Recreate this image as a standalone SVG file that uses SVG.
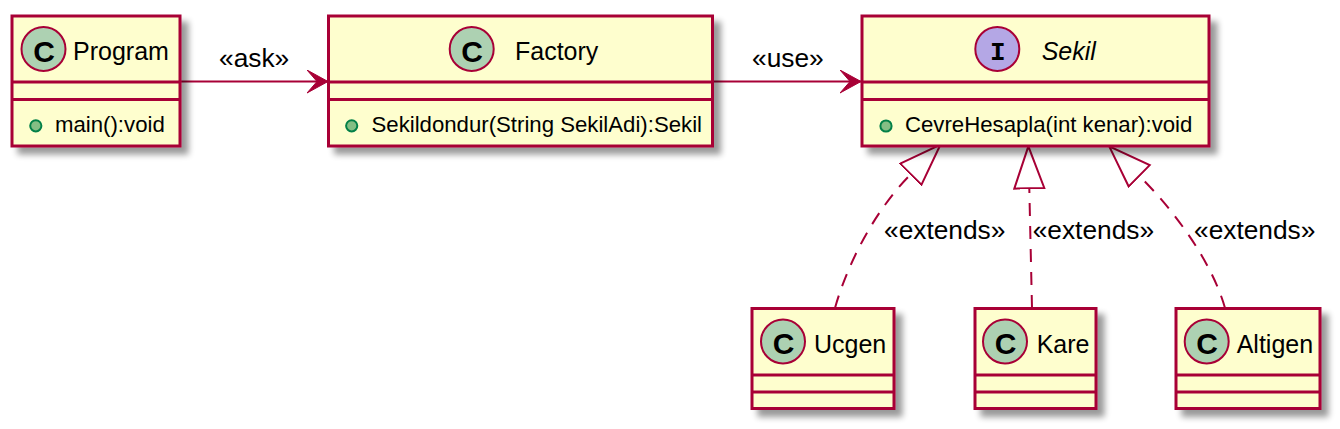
<svg xmlns="http://www.w3.org/2000/svg" width="1340" height="429" viewBox="0 0 1340 429">
<style>
.box{fill:#FEFECE;stroke:#A80036;stroke-width:3;filter:url(#sh)}
.sep{stroke:#A80036;stroke-width:3}
.cc{fill:#ADD1B2;stroke:#A80036;stroke-width:2}
.ci{fill:#B4A7E5;stroke:#A80036;stroke-width:2}
.dot{fill:#84BE84;stroke:#038048;stroke-width:2}
.glyph{font-family:"Liberation Sans",Arial,sans-serif;font-weight:bold;font-size:30px;text-anchor:middle;fill:#000}
.iglyph{font-family:"Liberation Mono","DejaVu Sans Mono",monospace;font-weight:bold;font-size:26px;text-anchor:middle;fill:#000}
.name{font-family:"Liberation Sans",Arial,sans-serif;font-size:25px;fill:#000}
.it{font-style:italic}
.meth{font-family:"Liberation Sans",Arial,sans-serif;font-size:22.2px;fill:#000}
.lbl{font-family:"Liberation Sans",Arial,sans-serif;font-size:26.3px;fill:#000}
.edge{fill:none;stroke:#A80036;stroke-width:2}
.dash{stroke-dasharray:13,10}
</style>
<defs>
<filter id="sh" x="-10%" y="-10%" width="130%" height="140%">
<feGaussianBlur in="SourceAlpha" stdDeviation="3" result="b"/>
<feOffset in="b" dx="7" dy="7" result="o"/>
<feComponentTransfer in="o" result="s"><feFuncA type="linear" slope="0.4"/></feComponentTransfer>
<feMerge><feMergeNode in="s"/><feMergeNode in="SourceGraphic"/></feMerge>
</filter>
<marker id="arr" markerUnits="userSpaceOnUse" markerWidth="24" markerHeight="26" refX="21" refY="11.5" orient="auto">
<path d="M0,0 L21,11.5 L0,23 L10,11.5 Z" fill="#A80036" stroke="#A80036" stroke-width="1"/>
</marker>
<marker id="ext" markerUnits="userSpaceOnUse" markerWidth="46" markerHeight="34" refX="1" refY="16" orient="auto">
<path d="M1,1 L43,16 L1,31 Z" fill="#FFFFFF" stroke="#A80036" stroke-width="2" stroke-dasharray="none"/>
</marker>
</defs>
<rect width="1340" height="429" fill="#FFFFFF"/>

<g id="connectors">
<path class="edge" d="M180,81.5 L328,81.5" marker-end="url(#arr)"/>
<text class="lbl" x="219" y="67">«ask»</text>
<path class="edge" d="M712.5,81.5 L861,81.5" marker-end="url(#arr)"/>
<text class="lbl" x="752" y="67">«use»</text>
<path class="edge dash" d="M835,308 C848,262 876,209 910.8,174.2" marker-end="url(#ext)"/>
<text class="lbl" x="884" y="239">«extends»</text>
<path class="edge dash" d="M1032,308 L1029.3,188.3" marker-end="url(#ext)"/>
<text class="lbl" x="1032.7" y="239">«extends»</text>
<path class="edge dash" d="M1225,308 C1212,262 1174,210 1139.2,175.8" marker-end="url(#ext)"/>
<text class="lbl" x="1194" y="239">«extends»</text>
</g>

<g id="Program">
<rect class="box" x="12" y="16" width="168" height="130"/>
<line class="sep" x1="12" y1="82" x2="180" y2="82"/>
<line class="sep" x1="12" y1="99.5" x2="180" y2="99.5"/>
<circle class="cc" cx="43.5" cy="49" r="22"/>
<text class="glyph" x="44" y="61.5">C</text>
<text class="name" x="73" y="60">Program</text>
<circle class="dot" cx="35.8" cy="125.8" r="5.6"/>
<text class="meth" x="55" y="132">main():void</text>
</g>

<g id="Factory">
<rect class="box" x="328.5" y="16" width="384" height="130"/>
<line class="sep" x1="328.5" y1="82" x2="712.5" y2="82"/>
<line class="sep" x1="328.5" y1="99.5" x2="712.5" y2="99.5"/>
<circle class="cc" cx="471.7" cy="49" r="22"/>
<text class="glyph" x="472.2" y="61.5">C</text>
<text class="name" x="515" y="60">Factory</text>
<circle class="dot" cx="351.7" cy="125.8" r="5.6"/>
<text class="meth" x="371.5" y="132">Sekildondur(String SekilAdi):Sekil</text>
</g>

<g id="Sekil">
<rect class="box" x="862" y="16" width="347" height="130"/>
<line class="sep" x1="862" y1="82" x2="1209" y2="82"/>
<line class="sep" x1="862" y1="99.5" x2="1209" y2="99.5"/>
<circle class="ci" cx="997.3" cy="49" r="22"/>
<text class="iglyph" x="997.8" y="60">I</text>
<text class="name it" x="1041.7" y="60">Sekil</text>
<circle class="dot" cx="886" cy="126" r="5.6"/>
<text class="meth" x="905" y="132">CevreHesapla(int kenar):void</text>
</g>

<g id="Ucgen">
<rect class="box" x="752" y="308.5" width="142" height="100"/>
<line class="sep" x1="752" y1="375" x2="894" y2="375"/>
<line class="sep" x1="752" y1="392" x2="894" y2="392"/>
<circle class="cc" cx="783" cy="341.5" r="22"/>
<text class="glyph" x="783.5" y="354">C</text>
<text class="name" x="814" y="352.5">Ucgen</text>
</g>

<g id="Kare">
<rect class="box" x="975" y="308.5" width="121" height="100"/>
<line class="sep" x1="975" y1="375" x2="1096" y2="375"/>
<line class="sep" x1="975" y1="392" x2="1096" y2="392"/>
<circle class="cc" cx="1005" cy="341.5" r="22"/>
<text class="glyph" x="1005.5" y="354">C</text>
<text class="name" x="1036.7" y="352.5">Kare</text>
</g>

<g id="Altigen">
<rect class="box" x="1176" y="308.5" width="144" height="100"/>
<line class="sep" x1="1176" y1="375" x2="1320" y2="375"/>
<line class="sep" x1="1176" y1="392" x2="1320" y2="392"/>
<circle class="cc" cx="1206.7" cy="341.5" r="22"/>
<text class="glyph" x="1207.2" y="354">C</text>
<text class="name" x="1236.7" y="352.5">Altigen</text>
</g>
</svg>
